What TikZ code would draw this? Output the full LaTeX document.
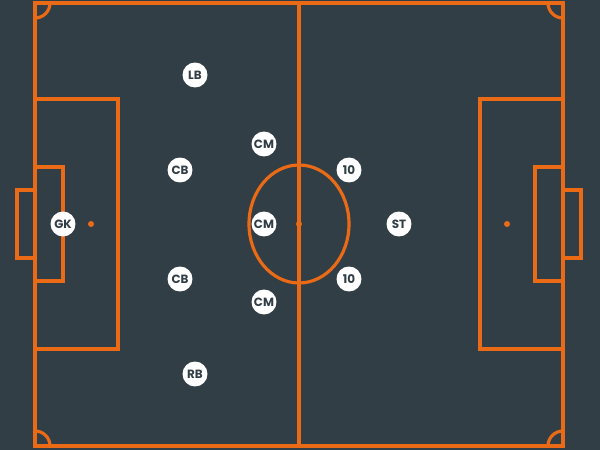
\documentclass[tikz,border=0pt]{standalone}
\usepackage{fontspec}
\setmainfont{Poppins}
\definecolor{pitchbg}{RGB}{50,62,69}
\definecolor{pitchline}{RGB}{234,106,22}
\definecolor{playertext}{RGB}{50,62,69}
\usepackage{tikz}
\usetikzlibrary{positioning}

\begin{document}
\begin{tikzpicture}[x=0.02cm, y=-0.02cm,
    line/.style={draw=pitchline, line width=1.8pt},
    player/.style={circle, fill=white, inner sep=0pt, minimum size=0.5cm, font=\fontsize{6.8}{7}\selectfont\bfseries, text=playertext}]
    % Background
    \fill[pitchbg] (0,0) rectangle (600,450);
    \useasboundingbox (0,0) rectangle (600,450);

    % Outline and halfway line
    \draw[line] (35,3) rectangle (563,446);
    \draw[line] (299,3) -- (299,446);

    % Centre circle and spot
    \draw[line] (299,224) ellipse [x radius=50, y radius=59];
    \fill[pitchline] (299,224) circle [radius=3];

    % Left end
    \draw[line] (35,99) rectangle (118,349);
    \draw[line] (35,167) rectangle (63,281);
    \draw[line] (17,190) rectangle (35,258);
    \fill[pitchline] (91,224) circle [radius=3];

    % Right end
    \draw[line] (480,99) rectangle (563,349);
    \draw[line] (535,167) rectangle (563,281);
    \draw[line] (563,190) rectangle (581,258);
    \fill[pitchline] (507,224) circle [radius=3];

    % Corner arcs
    \draw[line] (50,3) arc [start angle=0, end angle=90, radius=15];
    \draw[line] (548,3) arc [start angle=180, end angle=90, radius=15];
    \draw[line] (50,446) arc [start angle=0, end angle=-90, radius=15];
    \draw[line] (548,446) arc [start angle=180, end angle=270, radius=15];

    % Players
    \node[player] (gk) at (63,224) {GK};
    \node[player] (lb) at (195,75) {LB};
    \node[player] (cbl) at (180,170) {CB};
    \node[player] (cbr) at (180,279) {CB};
    \node[player] (rb) at (195,374) {RB};
    \foreach \y/\n in {144/cma,224/cmb,302/cmc} {
        \node[player] (\n) at (264,\y) {CM};
    }
    \node[player] (tena) at (349,170) {10};
    \node[player] (tenb) at (349,279) {10};
    \node[player] (st) at (399,224) {ST};
\end{tikzpicture}
\end{document}
